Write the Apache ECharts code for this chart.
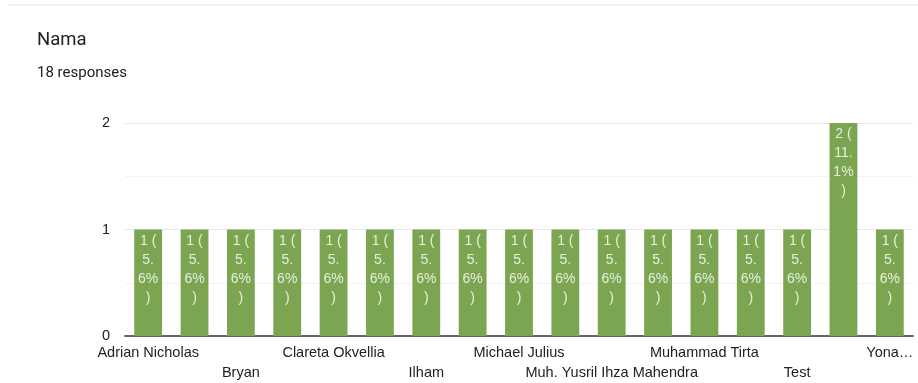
<!DOCTYPE html>
<html>
<head>
<meta charset="utf-8">
<script src="https://cdn.jsdelivr.net/npm/echarts@6/dist/echarts.min.js"></script>
<style>
html,body{margin:0;padding:0;background:#fff;}
#c{width:918px;height:383px;}
</style>
</head>
<body>
<div id="c"></div>
<script>
const titleText = 'Nama';
const subtitleText = '18 responses';
const categories = [
  'Adrian Nicholas', 'Responden 2', 'Bryan', 'Responden 4', 'Clareta Okvellia',
  'Responden 6', 'Ilham', 'Responden 8', 'Michael Julius', 'Responden 10',
  'Muh. Yusril Ihza Mahendra', 'Responden 12', 'Muhammad Tirta', 'Responden 14',
  'Test', 'Responden 16', 'Yona…'
];
const counts = [1,1,1,1,1,1,1,1,1,1,1,1,1,1,1,2,1];
const totalResponses = 18;
const yTicks = [0, 1, 2];

const chart = echarts.init(document.getElementById('c'));
chart.setOption({
  animation: false,
  backgroundColor: '#fff',
  graphic: [
    { type: 'rect', shape: { x: 9, y: 4, width: 909, height: 2 }, style: { fill: '#f1f1f1' } },
    { type: 'text', left: 37, top: 31, style: { text: titleText, font: '18.5px Roboto, Arial, sans-serif', fill: '#202124' } },
    { type: 'text', left: 37, top: 66, style: { text: subtitleText, font: '15px Roboto, Arial, sans-serif', fill: '#202124' } }
  ],
  grid: { left: 125, right: 5, top: 123, bottom: 46, containLabel: false },
  xAxis: {
    type: 'category',
    data: categories,
    axisLine: { show: true, lineStyle: { color: '#666', width: 2 } },
    axisTick: { show: false },
    axisLabel: {
      interval: 1,
      margin: 7,
      color: '#222',
      fontSize: 14.5,
      fontFamily: 'Arial, "Liberation Sans", sans-serif',
      lineHeight: 20,
      verticalAlign: 'top',
      formatter: function (v, i) { return (i % 4 === 2) ? '\n' + v : v; }
    }
  },
  yAxis: {
    type: 'value',
    min: yTicks[0],
    max: yTicks[yTicks.length - 1],
    interval: 1,
    axisLine: { show: false },
    axisTick: { show: false },
    axisLabel: { margin: 15, color: '#222', fontSize: 14.5, fontFamily: 'Arial, "Liberation Sans", sans-serif' },
    splitLine: { lineStyle: { color: '#e6e6e6', width: 1 } },
    minorTick: { show: false, splitNumber: 2 },
    minorSplitLine: { show: true, lineStyle: { color: '#f3f3f3', width: 1 } }
  },
  series: [{
    type: 'bar',
    data: counts,
    barCategoryGap: '40%',
    itemStyle: { color: '#7ca552' },
    label: {
      show: true,
      position: 'insideTop',
      distance: 2,
      color: '#e6efdc',
      fontSize: 14,
      lineHeight: 19,
      fontFamily: 'Arial, "Liberation Sans", sans-serif',
      formatter: function (p) {
        const pct = (p.value / totalResponses * 100).toFixed(1);
        const parts = pct.split('.');
        return p.value + ' (\n' + parts[0] + '.\n' + parts[1] + '%\n)';
      }
    }
  }]
});
</script>
</body>
</html>
